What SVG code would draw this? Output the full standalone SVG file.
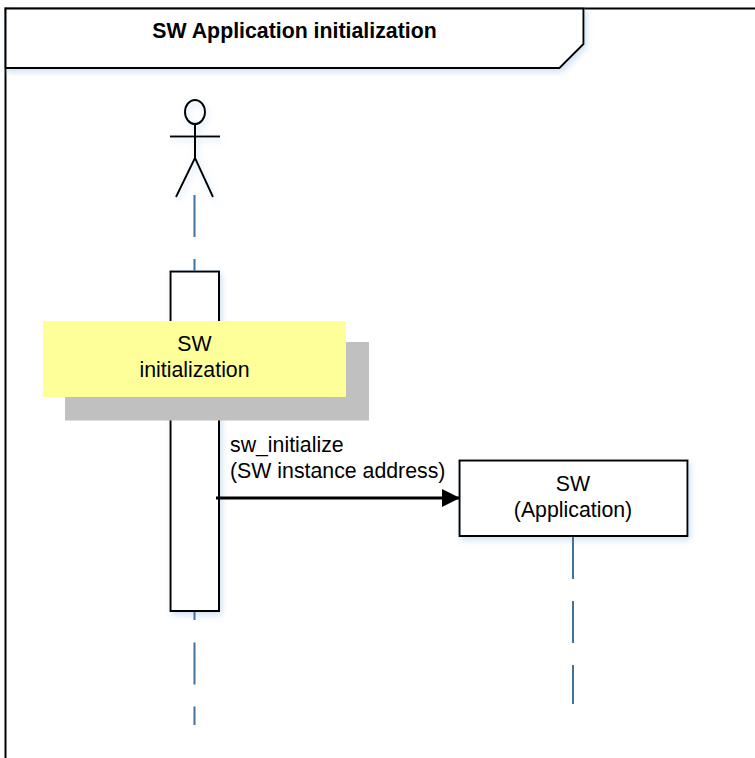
<svg xmlns="http://www.w3.org/2000/svg" width="755" height="758" viewBox="0 0 755 758">
<style>
.o{fill:none;stroke:#000;stroke-width:2}
.b{fill:#fff;stroke:#000;stroke-width:2}
.l{fill:none;stroke:#41719c;stroke-width:2;stroke-dasharray:42 22}
text{font-family:"Liberation Sans",Arial,sans-serif;font-size:21.300px;fill:#000}
.c{text-anchor:middle}
</style>
<defs>
<filter id="s" x="-10%" y="-10%" width="125%" height="125%"><feDropShadow dx="2" dy="3" stdDeviation="3" flood-color="#9dc3e6" flood-opacity="0.5"/></filter>
<marker id="a" markerUnits="userSpaceOnUse" markerWidth="18" markerHeight="18" refX="17" refY="9" orient="auto"><path d="M0 0L18 9L0 18Z" fill="#000"/></marker>
</defs>
<rect width="755" height="758" fill="#fff"/>
<g id="frame">
<path class="o" d="M5.500 758V8.500H755"/>
<path class="b" filter="url(#s)" d="M5.500 8.500H583.500V44L559.500 68H5.500Z"/>
<text x="294.500" y="37.500" class="c" style="font-weight:bold">SW Application initialization</text>
</g>
<g id="actor" filter="url(#s)">
<ellipse class="o" cx="195" cy="112" rx="10" ry="12"/>
<path class="o" d="M170 136.500H220M195 124V158L176 197M195 158L213 197"/>
</g>
<g id="activation"><rect class="b" filter="url(#s)" x="170.500" y="271.500" width="48.500" height="339.500"/></g>
<g id="init-note">
<rect x="65" y="342" width="304" height="78.500" fill="#c0c0c0"/>
<rect x="43" y="321" width="303" height="76" fill="#ffff99"/>
<text x="194.500" y="351" class="c">SW</text>
<text x="194.500" y="377" class="c">initialization</text>
</g>
<g id="message-label">
<text x="230" y="452">sw_initialize</text>
<text x="230" y="478">(SW instance address)</text>
</g>
<g id="sw-app">
<rect class="b" filter="url(#s)" x="459.500" y="460.500" width="228" height="75.500"/>
<text x="573" y="491" class="c">SW</text>
<text x="573" y="517" class="c">(Application)</text>
</g>
<g id="connectors">
<path class="l" d="M194.500 195V271"/>
<path class="l" d="M194.500 642.500V725"/>
<path class="l" d="M194.500 612V620" style="stroke-dasharray:none"/>
<path class="l" d="M573 537V704"/>
<path class="o" style="stroke-width:3" d="M216 498H459" marker-end="url(#a)"/>
</g>
</svg>
